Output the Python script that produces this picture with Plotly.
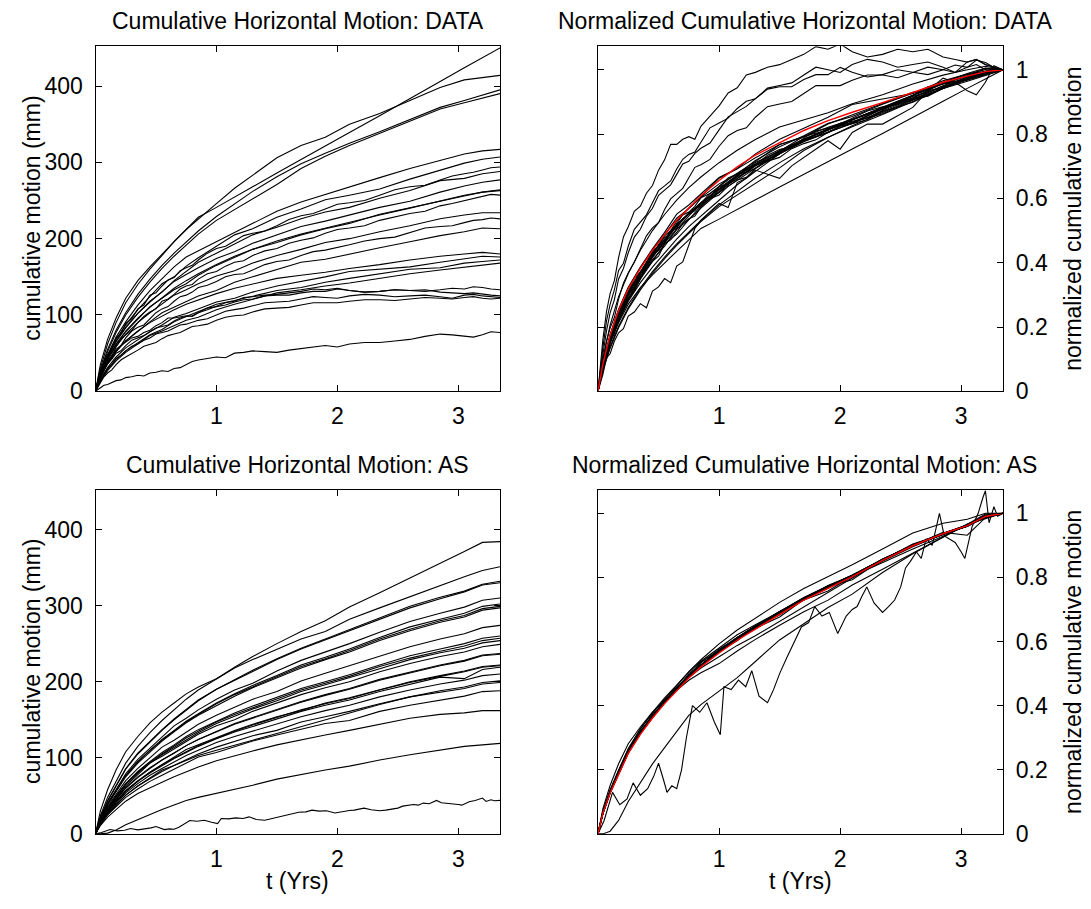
import numpy as np
import plotly.graph_objects as go

# Sampling epochs (years) shared by the gridded station series
t_yrs = [0, 0.04, 0.1, 0.17, 0.25, 0.35, 0.45, 0.55, 0.65, 0.75, 0.85, 1.0,
         1.15, 1.3, 1.5, 1.7, 1.9, 2.1, 2.35, 2.6, 2.85, 3.05, 3.2, 3.345]

# Denser epochs (a superset of t_yrs) for stations logged more finely
t_fine = [0, 0.02, 0.04, 0.07, 0.1, 0.135, 0.17, 0.21, 0.25, 0.3, 0.35, 0.4, 0.45, 0.5,
          0.55, 0.6, 0.65, 0.7, 0.75, 0.8, 0.85, 0.925, 1.0, 1.075, 1.15, 1.225, 1.3,
          1.4, 1.5, 1.6, 1.7, 1.8, 1.9, 2.0, 2.1, 2.225, 2.35, 2.475, 2.6, 2.725, 2.85,
          2.95, 3.05, 3.125, 3.2, 3.27, 3.345]

# ---- DATA: cumulative horizontal motion per station (mm), on t_yrs ----
data_s01 = [0, 35, 68, 96, 122, 145, 163, 180, 196, 212, 228, 241, 255, 268, 286, 304, 321, 339, 361, 384, 406, 424, 437, 450]
data_s02 = [0, 30, 62, 90, 116, 140, 160, 178, 196, 212, 226, 246, 266, 283, 306, 322, 333, 350, 364, 381, 398, 408, 411, 414]
data_s03 = [0, 27, 55, 80, 103, 127, 147, 165, 181, 196, 210, 229, 246, 262, 281, 298, 312, 325, 340, 356, 372, 381, 388, 395]
data_s04 = [0, 25, 52, 77, 100, 123, 143, 161, 177, 192, 206, 224, 238, 252, 271, 292, 308, 322, 338, 354, 370, 378, 384, 390]
data_s05 = [0, 24, 48, 71, 91, 113, 132, 148, 163, 176, 184, 196, 208, 220, 236, 248, 258, 268, 280, 292, 303, 311, 315, 317]
data_s06 = [0, 22, 47, 68, 87, 107, 124, 141, 150, 164, 175, 190, 205, 213, 228, 239, 251, 257, 265, 278, 290, 299, 304, 307]
data_s08 = [0, 21, 44, 65, 83, 102, 118, 130, 145, 157, 169, 181, 193, 205, 215, 226, 235, 241, 253, 263, 276, 279, 285, 288]
data_s09 = [0, 22, 46, 66, 84, 102, 117, 130, 144, 153, 162, 174, 183, 194, 205, 216, 223, 231, 241, 249, 261, 269, 274, 277]
data_s10 = [0, 20, 42, 61, 78, 95, 111, 122, 133, 141, 152, 165, 175, 186, 195, 205, 213, 220, 232, 240, 249, 256, 261, 264]
data_s11 = [0, 21, 43, 62, 79, 96, 110, 123, 135, 145, 154, 166, 177, 186, 197, 206, 214, 222, 231, 240, 250, 257, 261, 263]
data_s13 = [0, 20, 41, 59, 75, 90, 103, 114, 126, 133, 141, 151, 158, 168, 178, 186, 195, 200, 209, 217, 226, 231, 234, 234]
data_s15 = [0, 17, 36, 52, 66, 79, 91, 103, 110, 118, 125, 132, 143, 150, 159, 169, 173, 180, 188, 196, 204, 209, 214, 213]
data_s16 = [0, 18, 37, 53, 66, 79, 90, 99, 107, 114, 120, 128, 135, 141, 148, 152, 156, 161, 166, 172, 177, 180, 182, 180]
data_s17 = [0, 15, 31, 45, 57, 68, 78, 87, 97, 102, 108, 117, 122, 130, 138, 144, 150, 157, 160, 163, 169, 174, 177, 176]
data_s18 = [0, 14, 29, 42, 53, 64, 74, 81, 91, 98, 104, 114, 119, 125, 132, 136, 143, 148, 154, 160, 162, 168, 170, 172]
data_s19 = [0, 13, 27, 40, 51, 62, 73, 79, 86, 93, 97, 107, 114, 120, 129, 133, 138, 142, 148, 154, 159, 163, 166, 168]

# ---- DATA: finely logged stations (mm), on t_fine ----
data_s07 = [0, 14, 23, 39, 48, 56, 70, 76, 89, 95, 108, 113, 126, 129, 138, 146, 149, 158, 162, 165, 172, 181, 187, 190,
            197, 204, 207, 210, 217, 225, 230, 233, 239, 245, 247, 250, 257, 264, 268, 270, 277, 282, 285, 287,
            290, 293, 294]
data_s12 = [0, 9, 19, 33, 40, 46, 58, 68, 74, 80, 90, 98, 104, 108, 118, 121, 127, 134, 138, 140, 147, 154, 157, 164,
            169, 171, 178, 184, 187, 194, 198, 201, 207, 212, 214, 217, 224, 229, 233, 236, 243, 246, 250, 252,
            255, 258, 257]
data_s14 = [0, 11, 18, 28, 38, 47, 55, 60, 70, 79, 84, 87, 95, 103, 108, 111, 118, 124, 126, 130, 136, 139, 144, 150,
            153, 154, 159, 166, 170, 172, 178, 183, 185, 188, 192, 197, 200, 202, 208, 214, 216, 217, 221, 224,
            225, 227, 226]
data_s20 = [0, 10, 18, 29, 36, 42, 50, 53, 60, 67, 70, 73, 78, 83, 85, 87, 92, 96, 98, 99, 103, 109, 111, 113,
            117, 120, 121, 125, 126, 126, 129, 131, 131, 134, 132, 130, 131, 133, 132, 131, 133, 135, 134, 137,
            136, 134, 133]
data_s21 = [0, 11, 20, 31, 38, 43, 52, 60, 64, 70, 72, 77, 80, 86, 90, 96, 96, 98, 99, 98, 103, 107, 111, 116,
            118, 123, 124, 126, 127, 129, 131, 134, 133, 135, 132, 130, 131, 133, 132, 133, 130, 129, 128, 129,
            127, 126, 125]
data_s22 = [0, 8, 14, 23, 30, 35, 43, 47, 53, 59, 62, 67, 70, 75, 77, 79, 83, 87, 88, 91, 93, 95, 100, 105,
            107, 109, 112, 116, 117, 118, 121, 124, 123, 122, 125, 127, 126, 124, 125, 126, 124, 122, 126, 127,
            125, 124, 123]
data_s23 = [0, 6, 11, 19, 24, 28, 35, 41, 45, 49, 54, 59, 62, 64, 69, 73, 75, 77, 81, 85, 86, 88, 93, 97,
            99, 100, 104, 108, 109, 110, 113, 116, 116, 116, 118, 120, 120, 119, 121, 123, 122, 121, 123, 124,
            122, 121, 122]
data_s24 = [0, 2, 4, 8, 9, 12, 14, 15, 18, 19, 21, 20, 24, 25, 27, 26, 30, 31, 35, 39, 41, 43, 45, 44,
            50, 51, 53, 52, 51, 54, 56, 58, 60, 58, 62, 64, 64, 66, 68, 72, 75, 74, 72, 71,
            74, 78, 77]

# ---- AS: cumulative horizontal motion per station (mm), on t_yrs ----
as_s01 = [0, 30, 58, 84, 108, 128, 146, 160, 172, 184, 193, 204, 219, 233, 250, 266, 280, 298, 317, 336, 356, 371, 383, 384]
as_s02 = [0, 24, 48, 70, 93, 115, 133, 149, 163, 177, 189, 204, 218, 229, 243, 256, 266, 282, 297, 312, 326, 338, 346, 351]
as_s03 = [0, 21, 43, 63, 85, 105, 121, 136, 150, 163, 175, 190, 203, 215, 230, 244, 256, 268, 284, 299, 311, 319, 328, 332]
as_s04 = [0, 22, 44, 64, 86, 106, 122, 137, 151, 164, 176, 190, 202, 214, 229, 243, 255, 266, 282, 297, 309, 318, 327, 330]
as_s05 = [0, 20, 40, 59, 79, 98, 113, 127, 142, 152, 163, 177, 189, 198, 214, 228, 239, 250, 265, 279, 290, 298, 307, 310]
as_s06 = [0, 19, 39, 57, 77, 95, 110, 124, 136, 148, 158, 172, 184, 195, 208, 222, 232, 243, 258, 272, 282, 290, 299, 302]
as_s07 = [0, 20, 40, 58, 77, 95, 110, 123, 135, 147, 157, 171, 183, 193, 206, 220, 230, 241, 256, 269, 280, 287, 296, 299]
as_s08 = [0, 19, 38, 56, 75, 93, 108, 122, 134, 146, 156, 169, 181, 192, 205, 218, 229, 239, 254, 267, 278, 285, 294, 297]
as_s09 = [0, 18, 36, 52, 70, 86, 100, 114, 123, 134, 144, 156, 167, 177, 187, 201, 211, 221, 234, 246, 256, 263, 271, 274]
as_s10 = [0, 17, 34, 50, 66, 82, 95, 107, 117, 128, 137, 148, 159, 168, 179, 191, 200, 209, 222, 234, 243, 250, 257, 260]
as_s11 = [0, 17, 34, 49, 66, 81, 94, 105, 116, 126, 135, 147, 157, 166, 178, 189, 198, 207, 220, 231, 240, 247, 254, 257]
as_s12 = [0, 16, 33, 48, 65, 80, 93, 104, 114, 124, 133, 145, 155, 164, 175, 187, 196, 205, 217, 229, 238, 244, 251, 254]
as_s13 = [0, 16, 32, 47, 63, 78, 93, 102, 112, 122, 131, 142, 150, 161, 172, 183, 192, 200, 213, 224, 233, 239, 246, 249]
as_s14 = [0, 16, 31, 45, 61, 75, 87, 97, 107, 116, 124, 135, 145, 153, 164, 174, 183, 191, 203, 213, 222, 228, 235, 237]
as_s15 = [0, 15, 30, 45, 60, 74, 86, 97, 106, 116, 124, 134, 144, 152, 163, 173, 182, 190, 202, 212, 221, 227, 234, 236]
as_s16 = [0, 15, 29, 43, 57, 70, 81, 91, 100, 111, 117, 127, 136, 144, 154, 162, 172, 179, 190, 200, 208, 214, 220, 222]
as_s17 = [0, 14, 29, 42, 56, 69, 81, 91, 100, 108, 116, 126, 135, 143, 153, 163, 171, 178, 189, 199, 207, 213, 219, 221]
as_s18 = [0, 14, 28, 42, 56, 69, 80, 90, 99, 107, 115, 125, 134, 141, 151, 161, 169, 176, 187, 197, 206, 204, 216, 219]
as_s19 = [0, 14, 27, 40, 54, 66, 77, 86, 95, 103, 110, 120, 128, 135, 145, 154, 162, 169, 180, 189, 197, 202, 208, 210]
as_s20 = [0, 13, 26, 38, 51, 63, 73, 84, 90, 98, 105, 114, 122, 129, 136, 147, 154, 161, 171, 180, 188, 193, 199, 201]
as_s21 = [0, 13, 26, 38, 51, 63, 73, 82, 90, 97, 103, 110, 117, 123, 132, 141, 150, 159, 170, 180, 186, 191, 197, 199]
as_s22 = [0, 12, 25, 36, 48, 59, 69, 77, 85, 92, 101, 107, 115, 122, 130, 138, 145, 149, 161, 169, 176, 181, 187, 188]
as_s23 = [0, 11, 22, 32, 43, 53, 61, 68, 75, 82, 88, 96, 103, 109, 117, 124, 130, 136, 144, 152, 157, 159, 162, 162]
as_s24 = [0, 0, 1, 5, 12, 19, 26, 32, 38, 44, 48, 53, 58, 64, 72, 78, 84, 89, 97, 104, 110, 115, 117, 119]

# Slowest AS station, kept at its own denser epochs
as_low_t = [0, 0.05, 0.12, 0.18, 0.24, 0.29, 0.35, 0.41, 0.46, 0.5, 0.54, 0.57, 0.61, 0.65, 0.69,
            0.73, 0.78, 0.84, 0.9, 0.96, 1.01, 1.04, 1.1, 1.16, 1.22, 1.27, 1.33, 1.4, 1.45, 1.5,
            1.56, 1.62, 1.68, 1.74, 1.79, 1.85, 1.91, 1.98, 2.05, 2.1, 2.14, 2.18, 2.22, 2.28, 2.35,
            2.4, 2.45, 2.5, 2.54, 2.58, 2.63, 2.67, 2.71, 2.76, 2.82, 2.86, 2.9, 2.95, 3.0, 3.03,
            3.09, 3.14, 3.18, 3.2, 3.23, 3.27, 3.3, 3.345]
as_low_mm = [0, 1.8, 5.7, 4.0, 4.8, 7.0, 5.3, 6.2, 7.9, 9.7, 7.5, 5.7, 6.6, 6.2, 8.8,
             13.2, 17.6, 16.7, 18.0, 15.4, 13.6, 20.2, 19.8, 21.1, 20.2, 22.4, 18.9, 18.0, 19.8, 22.0,
             24.2, 26.4, 28.4, 29.0, 31.2, 29.9, 30.4, 27.5, 29.9, 30.8, 31.2, 32.6, 33.9, 31.7, 30.4,
             31.2, 32.1, 33.9, 36.5, 37.4, 38.7, 37.8, 40.5, 39.6, 44.0, 40.9, 40.5, 40.0, 38.7, 37.8,
             42.2, 44.0, 46.2, 47.1, 42.7, 44.9, 43.6, 44.0]

data_regular = [data_s01, data_s02, data_s03, data_s04, data_s05, data_s06, data_s08, data_s09,
                data_s10, data_s11, data_s13, data_s15, data_s16, data_s17, data_s18, data_s19]
data_fine = [data_s07, data_s12, data_s14, data_s20, data_s21, data_s22, data_s23, data_s24]
as_series = [as_s01, as_s02, as_s03, as_s04, as_s05, as_s06, as_s07, as_s08,
             as_s09, as_s10, as_s11, as_s12, as_s13, as_s14, as_s15, as_s16,
             as_s17, as_s18, as_s19, as_s20, as_s21, as_s22, as_s23, as_s24]

y_ticks_mm = [0, 100, 200, 300, 400]
y_ticks_norm = [0, 0.2, 0.4, 0.6, 0.8, 1.0]
y_ticktext_norm = ["0", "0.2", "0.4", "0.6", "0.8", "1"]
x_ticks = [1, 2, 3]

# ---- figure geometry (pixels) ----
W, H = 1091, 909
COL_L = (95.5, 500.0)
COL_R = (598.0, 1003.0)
ROW_T = (47.0, 397.0)
ROW_B = (497.0, 846.0)
FONT = "Liberation Sans, Arial, Helvetica, sans-serif"
FS = 23


def xdom(c):
    return [c[0] / W, c[1] / W]


def ydom(r):
    return [1 - r[1] / H, 1 - r[0] / H]


def normalize(v):
    a = np.asarray(v, dtype=float)
    return a / a[-1]


t = np.asarray(t_yrs)
tf = np.asarray(t_fine)
coarse_idx = [t_fine.index(v) for v in t_yrs]   # positions of t_yrs inside t_fine

fig = go.Figure()
black = dict(color="black", width=1.1)
red = dict(color="red", width=1.4)


def add_line(x, y, ax, line=black):
    fig.add_trace(go.Scatter(x=x, y=y, mode="lines", line=line, xaxis="x" + ax, yaxis="y" + ax,
                             showlegend=False, hoverinfo="skip"))


# panel 1: DATA cumulative
for s in data_regular:
    add_line(t, s, "")
for s in data_fine:
    add_line(tf, s, "")

# panel 2: DATA normalized + station mean
reg_norm = [normalize(s) for s in data_regular]
fine_norm = [normalize(s) for s in data_fine]
for n in reg_norm:
    add_line(t, n, "2")
for n in fine_norm:
    add_line(tf, n, "2")
data_mean = np.mean(reg_norm + [n[coarse_idx] for n in fine_norm], axis=0)
add_line(t, data_mean, "2", red)

# panel 3: AS cumulative
for s in as_series:
    add_line(t, s, "3")
add_line(as_low_t, as_low_mm, "3")

# panel 4: AS normalized + station mean
as_norm = [normalize(s) for s in as_series]
for n in as_norm:
    add_line(t, n, "4")
add_line(as_low_t, normalize(as_low_mm), "4")
add_line(t, np.mean(as_norm, axis=0), "4", red)

axis_common = dict(showline=True, linecolor="black", linewidth=1.3, mirror="allticks",
                   ticks="inside", ticklen=6, tickwidth=1, tickcolor="black",
                   showgrid=False, zeroline=False, tickfont=dict(family=FONT, size=FS, color="black"))

xa = dict(axis_common, range=[0, 3.345], tickvals=x_ticks, ticktext=[str(v) for v in x_ticks],
          ticklabelstandoff=4)
ya_mm = dict(axis_common, range=[0, 452], tickvals=y_ticks_mm, ticktext=[str(v) for v in y_ticks_mm],
             ticklabelstandoff=7)
ya_n = dict(axis_common, range=[0, 1.073], tickvals=y_ticks_norm, ticktext=y_ticktext_norm,
            side="right", ticklabelstandoff=7)

fig.update_layout(
    width=W, height=H, margin=dict(l=0, r=0, t=0, b=0),
    paper_bgcolor="white", plot_bgcolor="white",
    font=dict(family=FONT, size=FS, color="black"),
    xaxis=dict(xa, domain=xdom(COL_L), anchor="y"),
    yaxis=dict(ya_mm, domain=ydom(ROW_T), anchor="x"),
    xaxis2=dict(xa, domain=xdom(COL_R), anchor="y2"),
    yaxis2=dict(ya_n, domain=ydom(ROW_T), anchor="x2"),
    xaxis3=dict(xa, domain=xdom(COL_L), anchor="y3"),
    yaxis3=dict(ya_mm, domain=ydom(ROW_B), anchor="x3"),
    xaxis4=dict(xa, domain=xdom(COL_R), anchor="y4"),
    yaxis4=dict(ya_n, domain=ydom(ROW_B), anchor="x4"),
)


def label(text, xp, yp, angle=0, size=FS):
    fig.add_annotation(text=text, x=xp / W, y=1 - yp / H, xref="paper", yref="paper",
                       xanchor="center", yanchor="middle", showarrow=False, textangle=angle,
                       font=dict(family=FONT, size=size, color="black"))


cl = (COL_L[0] + COL_L[1]) / 2
cr = (COL_R[0] + COL_R[1]) / 2
label("Cumulative Horizontal Motion: DATA", cl, 21.5)
label("Normalized Cumulative Horizontal Motion: DATA", cr + 4, 21.5)
label("Cumulative Horizontal Motion: AS", cl, 471.5)
label("Normalized Cumulative Horizontal Motion: AS", cr + 4, 471.5)
label("cumulative motion (mm)", 32, (ROW_T[0] + ROW_T[1]) / 2, -90)
label("cumulative motion (mm)", 32, (ROW_B[0] + ROW_B[1]) / 2, -90)
label("normalized cumulative motion", 1073, (ROW_T[0] + ROW_T[1]) / 2, -90)
label("normalized cumulative motion", 1073, (ROW_B[0] + ROW_B[1]) / 2, -90)
label("t (Yrs)", cl, 894)
label("t (Yrs)", cr, 894)

fig.write_html("out.html")
